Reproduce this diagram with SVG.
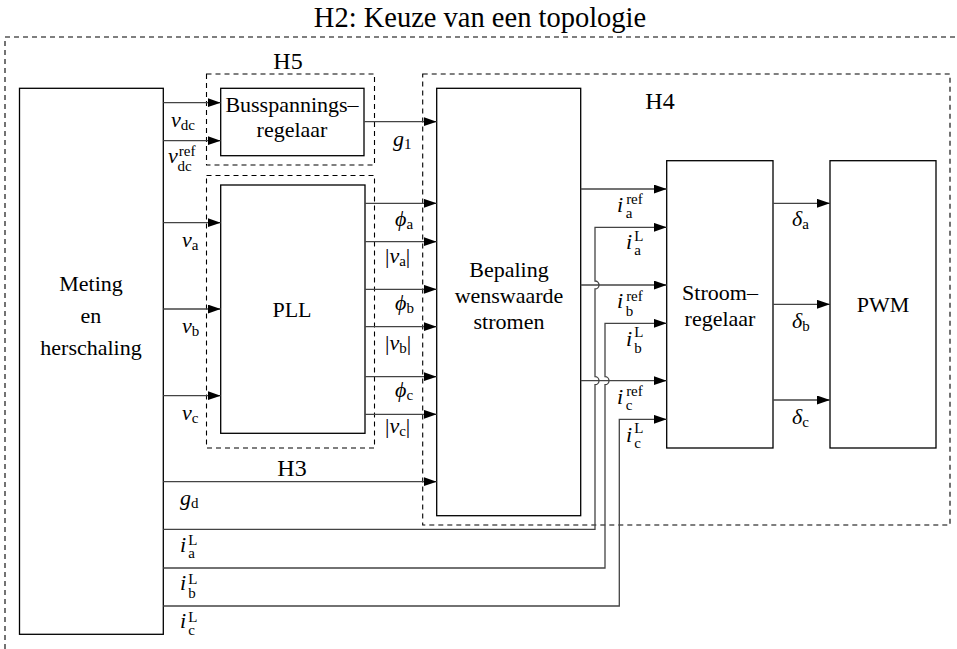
<svg xmlns="http://www.w3.org/2000/svg" width="957" height="649" viewBox="0 0 957 649">
<style>
.box{fill:#fff;stroke:#000;stroke-width:1.3}
.dash{fill:none;stroke:#000;stroke-width:1.1;stroke-dasharray:5 4}
.ln{fill:none;stroke:#444;stroke-width:1.3}
.ar{marker-end:url(#ah)}
.tx text{font-size:22px;fill:#000}
.tx .c{text-anchor:middle}
.tx .m{font-style:italic}
.tx .s{font-size:15px;font-style:normal}
.tx .h{font-size:24px}
.tx .t{font-size:28.5px}
</style>
<defs>
<marker id="ah" markerUnits="userSpaceOnUse" markerWidth="14" markerHeight="10" refX="13" refY="4.5" orient="auto">
<path d="M0,0 L13,4.5 L0,9 Z" fill="#000"/>
</marker>
</defs>
<rect width="957" height="649" fill="#fff"/>
<g class="tx" style="font-family:'Liberation Serif','Times New Roman',Tinos,Times,'Noto Serif','DejaVu Serif',FreeSerif,serif">
<g id="h2">
<path class="dash" d="M5,649 V37 H957"/>
<text class="c t" x="480" y="27">H2: Keuze van een topologie</text>
</g>
<g id="h5">
<rect class="dash" x="206.5" y="74" width="168" height="91"/>
<text class="c h" x="288" y="69">H5</text>
</g>
<g id="h3">
<rect class="dash" x="206.5" y="175.5" width="168" height="272.5"/>
<text class="c h" x="292" y="476">H3</text>
</g>
<g id="h4">
<rect class="dash" x="422.7" y="74" width="527.3" height="451"/>
<text class="c h" x="660" y="109">H4</text>
</g>

<g id="meting">
<rect class="box" x="19.5" y="88.3" width="143.8" height="546"/>
<text class="c" x="91" y="291">Meting</text>
<text class="c" x="91" y="323">en</text>
<text class="c" x="91" y="355">herschaling</text>
</g>
<g id="busspanning">
<rect class="box" x="220.7" y="88.3" width="143.3" height="67.4"/>
<text class="c" x="292" y="112">Busspannings–</text>
<text class="c" x="292" y="137">regelaar</text>
</g>
<g id="pll">
<rect class="box" x="220.7" y="185" width="144.3" height="248.3"/>
<text class="c" x="292" y="317">PLL</text>
</g>
<g id="bepaling">
<rect class="box" x="436.7" y="88.3" width="144" height="427.4"/>
<text class="c" x="509" y="277">Bepaling</text>
<text class="c" x="509" y="303">wenswaarde</text>
<text class="c" x="509" y="329">stromen</text>
</g>
<g id="stroom">
<rect class="box" x="666.7" y="160.7" width="106.3" height="287.3"/>
<text class="c" x="720" y="300">Stroom–</text>
<text class="c" x="720" y="326">regelaar</text>
</g>
<g id="pwm">
<rect class="box" x="830" y="160.7" width="106" height="287.3"/>
<text class="c" x="883" y="312">PWM</text>
</g>

<g id="connectors">
<path class="ln ar" d="M163.3,102.7 H220.7"/>
<path class="ln ar" d="M163.3,140.7 H220.7"/>
<path class="ln ar" d="M364,121.7 H436.7"/>
<path class="ln ar" d="M163.3,222.7 H220.7"/>
<path class="ln ar" d="M163.3,309 H220.7"/>
<path class="ln ar" d="M163.3,395.7 H220.7"/>
<path class="ln ar" d="M365,203.3 H436.7"/>
<path class="ln ar" d="M365,241.7 H436.7"/>
<path class="ln ar" d="M365,289.3 H436.7"/>
<path class="ln ar" d="M365,326.7 H436.7"/>
<path class="ln ar" d="M365,376.7 H436.7"/>
<path class="ln ar" d="M365,414.3 H436.7"/>
<path class="ln ar" d="M163.3,481.7 H436.7"/>
<path class="ln ar" d="M580.7,189 H666.7"/>
<path class="ln ar" d="M580.7,285 H666.7"/>
<path class="ln ar" d="M580.7,380.7 H666.7"/>
<path class="ln ar" d="M163.3,529.3 H595 V384.7 A4,4 0 0 0 595,376.7 V289 A4,4 0 0 0 595,281 V227.3 H666.7"/>
<path class="ln ar" d="M163.3,568 H605 V384.7 A4,4 0 0 0 605,376.7 V323.3 H666.7"/>
<path class="ln ar" d="M163.3,606 H619.3 V419.3 H666.7"/>
<path class="ln ar" d="M773,203.3 H830"/>
<path class="ln ar" d="M773,304.3 H830"/>
<path class="ln ar" d="M773,400 H830"/>
</g>

<g id="labels">
<text x="171" y="127"><tspan class="m">v</tspan><tspan class="s" dy="3">dc</tspan></text>
<text x="168" y="163"><tspan class="m">v</tspan><tspan class="s" dx="1" dy="-7">ref</tspan><tspan class="s" dx="-18" dy="15">dc</tspan></text>
<text x="393" y="146"><tspan class="m">g</tspan><tspan class="s" dy="3">1</tspan></text>
<text x="182" y="247"><tspan class="m">v</tspan><tspan class="s" dy="3">a</tspan></text>
<text x="182" y="333"><tspan class="m">v</tspan><tspan class="s" dy="3">b</tspan></text>
<text x="182" y="420"><tspan class="m">v</tspan><tspan class="s" dy="3">c</tspan></text>
<text x="395" y="226"><tspan class="m">ϕ</tspan><tspan class="s" dy="3">a</tspan></text>
<text x="385" y="263">|<tspan class="m">v</tspan><tspan class="s" dy="3">a</tspan><tspan dy="-3">|</tspan></text>
<text x="395" y="310"><tspan class="m">ϕ</tspan><tspan class="s" dy="3">b</tspan></text>
<text x="385" y="350">|<tspan class="m">v</tspan><tspan class="s" dy="3">b</tspan><tspan dy="-3">|</tspan></text>
<text x="395" y="397"><tspan class="m">ϕ</tspan><tspan class="s" dy="3">c</tspan></text>
<text x="385" y="433">|<tspan class="m">v</tspan><tspan class="s" dy="3">c</tspan><tspan dy="-3">|</tspan></text>
<text x="617" y="212"><tspan class="m">i</tspan><tspan class="s" dx="3" dy="-8">ref</tspan><tspan class="s" dx="-17" dy="14">a</tspan></text>
<text x="626" y="249"><tspan class="m">i</tspan><tspan class="s" dx="2" dy="-8">L</tspan><tspan class="s" dx="-9" dy="14">a</tspan></text>
<text x="617" y="308"><tspan class="m">i</tspan><tspan class="s" dx="3" dy="-7">ref</tspan><tspan class="s" dx="-17" dy="15">b</tspan></text>
<text x="626" y="346"><tspan class="m">i</tspan><tspan class="s" dx="2" dy="-9">L</tspan><tspan class="s" dx="-9" dy="16">b</tspan></text>
<text x="617" y="404"><tspan class="m">i</tspan><tspan class="s" dx="3" dy="-8">ref</tspan><tspan class="s" dx="-17" dy="14">c</tspan></text>
<text x="626" y="442"><tspan class="m">i</tspan><tspan class="s" dx="2" dy="-9">L</tspan><tspan class="s" dx="-9" dy="15">c</tspan></text>
<text x="792" y="226"><tspan class="m">δ</tspan><tspan class="s" dy="3">a</tspan></text>
<text x="792" y="328"><tspan class="m">δ</tspan><tspan class="s" dy="3">b</tspan></text>
<text x="792" y="424"><tspan class="m">δ</tspan><tspan class="s" dy="3">c</tspan></text>
<text x="180" y="505"><tspan class="m">g</tspan><tspan class="s" dy="3">d</tspan></text>
<text x="180" y="552"><tspan class="m">i</tspan><tspan class="s" dx="2" dy="-7">L</tspan><tspan class="s" dx="-9" dy="13">a</tspan></text>
<text x="180" y="590"><tspan class="m">i</tspan><tspan class="s" dx="2" dy="-6">L</tspan><tspan class="s" dx="-9" dy="14">b</tspan></text>
<text x="180" y="628"><tspan class="m">i</tspan><tspan class="s" dx="2" dy="-6">L</tspan><tspan class="s" dx="-9" dy="13">c</tspan></text>
</g>
</g>
</svg>
